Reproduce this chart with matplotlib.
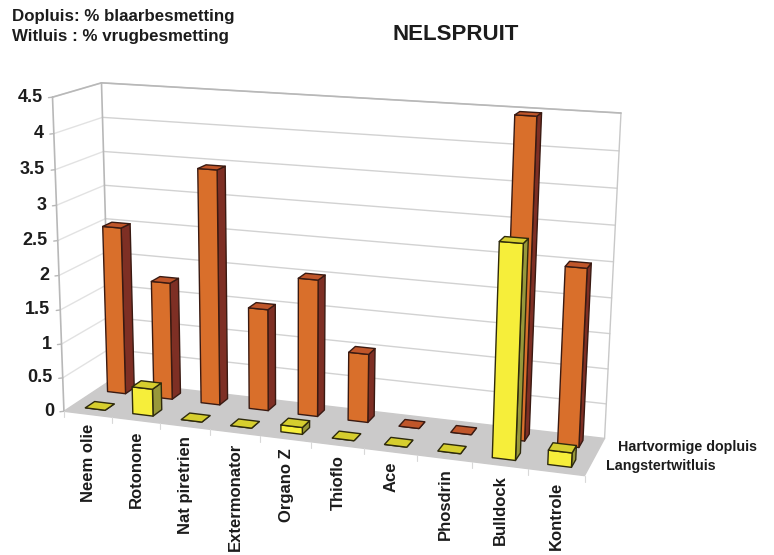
import numpy as np
import matplotlib
matplotlib.use("Agg")
import matplotlib.pyplot as plt

plt.rcParams['font.family'] = ['Liberation Sans', 'DejaVu Sans']

kategorie = ["Neem olie", "Rotonone", "Nat piretrien", "Extermonator", "Organo Z",
             "Thioflo", "Ace", "Phosdrin", "Bulldock", "Kontrole"]
dopluis = [2.5, 1.75, 3.45, 1.5, 2.0, 1.0, 0, 0, 4.47, 2.5]
witluis = [0, 0.4, 0, 0, 0.1, 0, 0, 0, 2.95, 0.2]
z_ticks = [0, 0.5, 1, 1.5, 2, 2.5, 3, 3.5, 4, 4.5]
z_labels = ["0", "0.5", "1", "1.5", "2", "2.5", "3", "3.5", "4", "4.5"]

# hoeke van die 3D-boks: (kategorie, diepte, waarde) -> pixels
boks_wereld = [(0, 0, 0), (0, 1, 0), (10, 1, 0), (10, 0, 0),
               (0, 0, 4.5), (0, 1, 4.5), (10, 1, 4.5), (10, 0, 4.5)]
boks_pixels = [(64, 410), (110, 382), (606, 438), (583, 476),
               (52, 98), (102, 82), (619, 113), (603, 131)]


def kalibreer(wereld, pixels):
    rye = []
    for (x, y, z), (u, v) in zip(wereld, pixels):
        rye.append([x, y, z, 1, 0, 0, 0, 0, -u * x, -u * y, -u * z, -u])
        rye.append([0, 0, 0, 0, x, y, z, 1, -v * x, -v * y, -v * z, -v])
    return np.linalg.svd(np.array(rye, dtype=float))[2][-1].reshape(3, 4)


M = kalibreer(boks_wereld, boks_pixels)


def P(x, y, z):
    h = M @ np.array([x, y, z, 1.0])
    return h[0] / h[2], h[1] / h[2]


fig = plt.figure(figsize=(7.74, 5.55), dpi=100)
ax = fig.add_axes([0, 0, 1, 1])
ax.set_xlim(0, 774)
ax.set_ylim(555, 0)
ax.axis("off")

rand = "#b8b8b8"
teks = "#1c1c1c"


def lyn(a, b, kleur="#cccccc", lw=1.0, zorder=2):
    ax.plot([a[0], b[0]], [a[1], b[1]], color=kleur, lw=lw, zorder=zorder, solid_capstyle="round")


def vlak(punte, kleur, rand_kleur=None, lw=1.0, zorder=3):
    ax.fill([p[0] for p in punte], [p[1] for p in punte], facecolor=kleur,
            edgecolor=rand_kleur if rand_kleur else kleur, lw=lw, zorder=zorder, joinstyle="round")


# vloer en mure
vlak([P(0, 0, 0), P(0, 1, 0), P(10, 1, 0), P(10, 0, 0)], "#cbcaca", zorder=1)
for z in z_ticks[1:]:
    lyn(P(0, 0, z), P(0, 1, z), "#e2e2e2")
    lyn(P(0, 1, z), P(10, 1, z), "#d2d2d2")
lyn(P(0, 0, 0), P(0, 0, 4.5), rand, 1.2)
lyn(P(0, 1, 0), P(0, 1, 4.5), rand, 1.2)
lyn(P(10, 1, 0), P(10, 1, 4.5), "#c8c8c8", 1.0)
lyn(P(0, 0, 4.5), P(0, 1, 4.5), rand, 1.2)
lyn(P(0, 1, 4.5), P(10, 1, 4.5), rand, 1.2)

# merkies en byskrifte op die asse
for z, s in zip(z_ticks, z_labels):
    p = P(0, 0, z)
    lyn((p[0] - 4, p[1] + 0.5), p, rand, 1.0)
    ax.text(p[0] - 10, p[1], s, ha="right", va="center", fontsize=13, fontweight="bold", color=teks)
for i in range(11):
    p = P(i, 0, 0)
    lyn(p, (p[0], p[1] + 6), "#d8d8d8", 0.8)
for i, naam in enumerate(kategorie):
    p = P(i + 0.5, 0, 0)
    ax.text(p[0] + 0.5, p[1] + 10, naam, rotation=90, ha="center", va="top", fontsize=12,
            fontweight="bold", color=teks)


def staaf(i, y0, hoogte, voor, sy, bo, rand_kleur, breedte, diepte, skuif=0.0):
    x0 = i + (1 - breedte) / 2 + skuif
    x1 = x0 + breedte
    y1 = y0 + diepte
    vlak([P(x1, y0, 0), P(x1, y1, 0), P(x1, y1, hoogte), P(x1, y0, hoogte)], sy, rand_kleur)
    vlak([P(x0, y0, 0), P(x1, y0, 0), P(x1, y0, hoogte), P(x0, y0, hoogte)], voor, rand_kleur)
    vlak([P(x0, y0, hoogte), P(x1, y0, hoogte), P(x1, y1, hoogte), P(x0, y1, hoogte)], bo, rand_kleur)


for i, w in enumerate(dopluis):
    staaf(i, 0.68, w, "#d96f2b", "#7e2f24", "#c0562a", "#3a1a12", 0.39, 0.2, -0.05)
for i, w in enumerate(witluis):
    staaf(i, 0.16, w, "#f6ee3a", "#98983a", "#d6ce2e", "#2e2a0c", 0.42, 0.2)

ax.text(12, 17, "Dopluis: % blaarbesmetting", fontsize=12.2, fontweight="bold", va="center", color=teks)
ax.text(12, 37, "Witluis : % vrugbesmetting", fontsize=12.2, fontweight="bold", va="center", color=teks)
ax.text(456, 34, "NELSPRUIT", fontsize=16, fontweight="bold", ha="center", va="center", color=teks)
ax.text(618, 447, "Hartvormige dopluis", fontsize=10.3, fontweight="bold", va="center", color=teks)
ax.text(606, 466, "Langstertwitluis", fontsize=10.3, fontweight="bold", va="center", color=teks)

fig.savefig("out.png", dpi=100)
